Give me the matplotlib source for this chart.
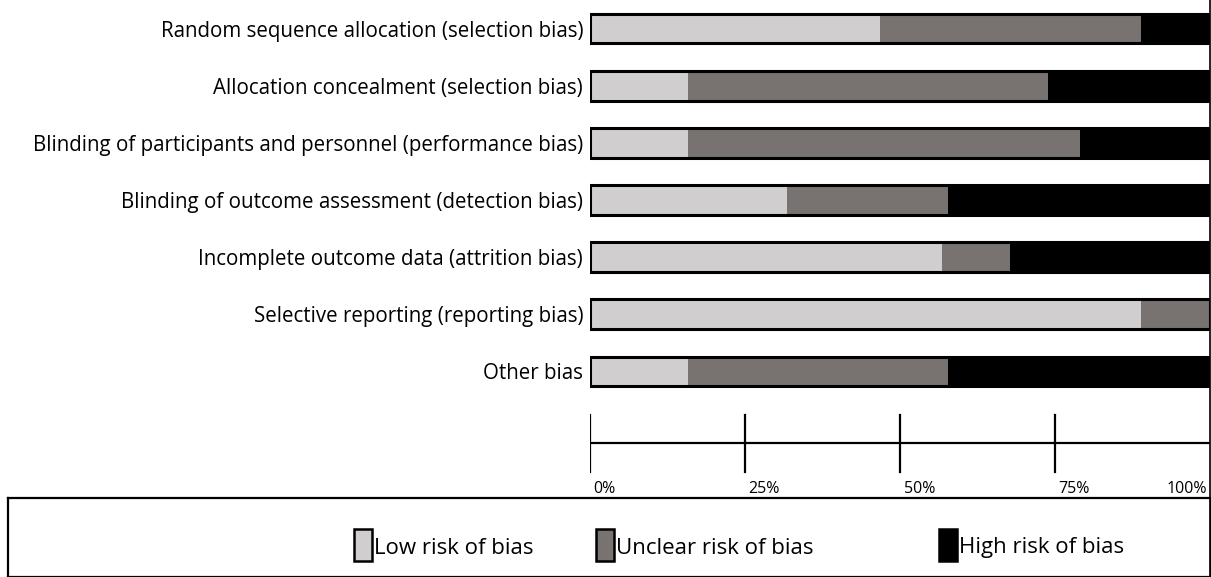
import matplotlib
matplotlib.use("Agg")
import matplotlib.pyplot as plt
from matplotlib.patches import Rectangle
from matplotlib.lines import Line2D

categories = [
    "Random sequence allocation (selection bias)",
    "Allocation concealment (selection bias)",
    "Blinding of participants and personnel (performance bias)",
    "Blinding of outcome assessment (detection bias)",
    "Incomplete outcome data (attrition bias)",
    "Selective reporting (reporting bias)",
    "Other bias",
]
low = [46.8, 15.8, 15.8, 31.8, 56.8, 88.8, 15.8]
unclear = [42.0, 58.1, 63.2, 25.9, 10.9, 11.2, 41.9]
high = [100 - l - u for l, u in zip(low, unclear)]
tick_vals = [0, 25, 50, 75, 100]
tick_labels = ["0%", "25%", "50%", "75%", "100%"]
legend_labels = ["Low risk of bias", "Unclear risk of bias", "High risk of bias"]
colors = ["#D0CECF", "#787371", "#000000"]

W, H = 1211, 577
plt.rcParams['font.family'] = ['Open Sans', 'DejaVu Sans']
fig = plt.figure(figsize=(W / 100, H / 100), dpi=100)

def px(x0, y0, x1, y1):
    return [x0 / W, 1 - y1 / H, (x1 - x0) / W, (y1 - y0) / H]

# main bars
ax = fig.add_axes(px(590, 0, 1210, 400))
ypos = list(range(len(categories)))
bh = 0.52
ax.barh(ypos, low, height=bh, color=colors[0], linewidth=0)
ax.barh(ypos, unclear, left=low, height=bh, color=colors[1], linewidth=0)
left_h = [l + u for l, u in zip(low, unclear)]
ax.barh(ypos, high, left=left_h, height=bh, color=colors[2], linewidth=0)
ax.barh(ypos, [100] * len(ypos), height=bh, fill=False, edgecolor="black", linewidth=2.2)
ax.set_xlim(0, 100)
ax.set_ylim(len(categories) - 0.5, -0.5)
ax.set_yticks(ypos)
ax.set_yticklabels(categories, fontsize=14.8)
ax.tick_params(axis="y", length=0, pad=5)
ax.set_xticks([])
for s in ax.spines.values():
    s.set_visible(False)
ax.patch.set_alpha(0)

# legend box
lx = fig.add_axes(px(8, 498, 1211, 577))
lx.set_xlim(0, W)
lx.set_ylim(577, 498)
lx.set_xticks([])
lx.set_yticks([])
for s in lx.spines.values():
    s.set_linewidth(1.6)
sw_x = [348, 592, 937]
for x0, c, lab in zip(sw_x, colors, legend_labels):
    lx.add_patch(Rectangle((x0, 529), 18, 32, facecolor=c, edgecolor="black", lw=1.8))
    lx.text(x0 + 20, 548, lab, ha="left", va="center", fontsize=16)

# scale axis
sx = fig.add_axes(px(590, 410, 1210, 500))
sx.set_xlim(0, 100)
sx.set_ylim(500, 410)
sx.axis("off")
sx.plot([0, 100], [443, 443], color="black", lw=1.6, solid_capstyle="butt")
for v, lab in zip(tick_vals, tick_labels):
    if v < 100:
        sx.plot([v, v], [415, 472], color="black", lw=1.6)
        sx.text(v + 0.6, 489, lab, ha="left", va="center", fontsize=11.5)
    else:
        sx.text(v - 0.4, 489, lab, ha="right", va="center", fontsize=11.5)

# right border
fig.add_artist(Line2D([1 - 0.8 / W, 1 - 0.8 / W], [0, 1], color="black", lw=1.2))

fig.savefig("out.png", dpi=100)
